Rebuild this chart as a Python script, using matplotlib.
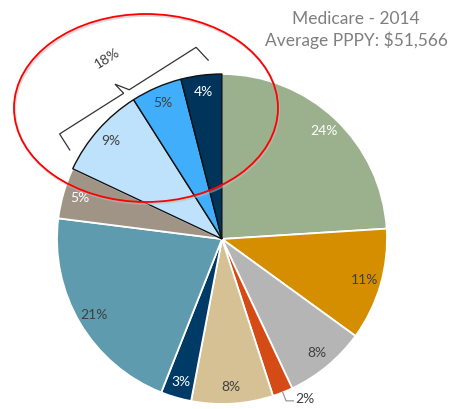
import numpy as np
import matplotlib.pyplot as plt
from matplotlib.patches import Ellipse

# slices clockwise from 12 o'clock
values = [24, 11, 8, 2, 8, 3, 21, 5, 9, 5, 4]
labels = ['24%', '11%', '8%', '2%', '8%', '3%', '21%', '5%', '9%', '5%', '4%']
colors = ['#9BB18E', '#D48E00', '#B5B5B5', '#D44B16', '#D6C195', '#003A66',
          '#5E9BAF', '#A09486', '#BEE2FB', '#41AEFB', '#00345A']
label_colors = ['white', '#404040', '#404040', '#404040', '#404040', 'white',
                '#404040', 'white', '#404040', '#404040', 'white']
highlight = [False] * 8 + [True] * 3
outside = [False, False, False, True, False, False, False, False, False, False, False]
group_label = '18%'
title = 'Medicare - 2014\nAverage PPPY: $51,566'

plt.rcParams['font.family'] = ['Lato', 'DejaVu Sans']

W, H = 463, 409
R = 165.0           # pie radius in px
cx, cy = 222, 239   # pie centre in px (from top-left)

fig = plt.figure(figsize=(W / 100, H / 100), dpi=100)
ax = fig.add_axes([0, 0, 1, 1])

wedges, _ = ax.pie(values, colors=colors, startangle=90, counterclock=False,
                   radius=1, wedgeprops=dict(edgecolor='white', linewidth=1.3))
ax.set_xlim(-cx / R, (W - cx) / R)
ax.set_ylim(-(H - cy) / R, cy / R)
ax.set_aspect('equal')
ax.axis('off')

for w, h in zip(wedges, highlight):
    if h:
        w.set_edgecolor('#111111')
        w.set_linewidth(1.0)
        w.set_zorder(3)

# slice labels
for w, lab, lc, out in zip(wedges, labels, label_colors, outside):
    a = np.deg2rad((w.theta1 + w.theta2) / 2)
    u = np.array([np.cos(a), np.sin(a)])
    if out:
        p0 = u * 1.0
        p1 = u * 1.055
        p2 = p1 + np.array([0.045, 0])
        ax.plot([p0[0], p1[0], p2[0]], [p0[1], p1[1], p2[1]], color='#8C8C8C', lw=0.8, zorder=4)
        ax.text(p2[0] + 0.01, p2[1] + 0.01, lab, ha='left', va='center',
                fontsize=10, color=lc, zorder=5)
    else:
        p = u * 0.9
        ax.text(p[0], p[1], lab, ha='center', va='center', fontsize=10,
                color=lc, zorder=5)

# bracket over the highlighted group
ths = [t for w, h in zip(wedges, highlight) if h for t in (w.theta1, w.theta2)]
am = np.deg2rad((min(ths) + max(ths)) / 2)
u = np.array([np.cos(am), np.sin(am)])
v = np.array([np.sin(am), -np.cos(am)])
mid = u * 1.065
half = 0.49
pts = [mid - half * v - 0.115 * u,
       mid - half * v,
       mid - 0.03 * v,
       mid + 0.075 * u - 0.045 * v,
       mid + 0.01 * v,
       mid + half * v,
       mid + half * v - 0.105 * u + 0.02 * v]
pts = np.array(pts)
ax.plot(pts[:, 0], pts[:, 1], color='#333333', lw=0.9, zorder=4,
        solid_joinstyle='miter')
tp = u * 1.30
ax.text(tp[0], tp[1], group_label, ha='center', va='center', fontsize=10,
        color='#404040', rotation=np.degrees(np.arctan2(v[1], v[0])), zorder=5)

# red highlight ellipse (with faint shadow)
ex, ey = (146 - cx) / R, (cy - 108) / R
ew, eh = 264 / R, 188 / R
ax.add_patch(Ellipse((ex + 0.006, ey - 0.01), ew, eh, fill=False,
                     edgecolor='#BBBBBB', lw=1.6, alpha=0.5, zorder=5))
ax.add_patch(Ellipse((ex, ey), ew, eh, fill=False, edgecolor='#FF0000',
                     lw=1.3, zorder=6))

fig.text(356 / W, 1 - 30 / H, title, ha='center', va='center', fontsize=12.5,
         color='#7F7F7F', linespacing=1.25)

fig.savefig('out.png', dpi=100)
